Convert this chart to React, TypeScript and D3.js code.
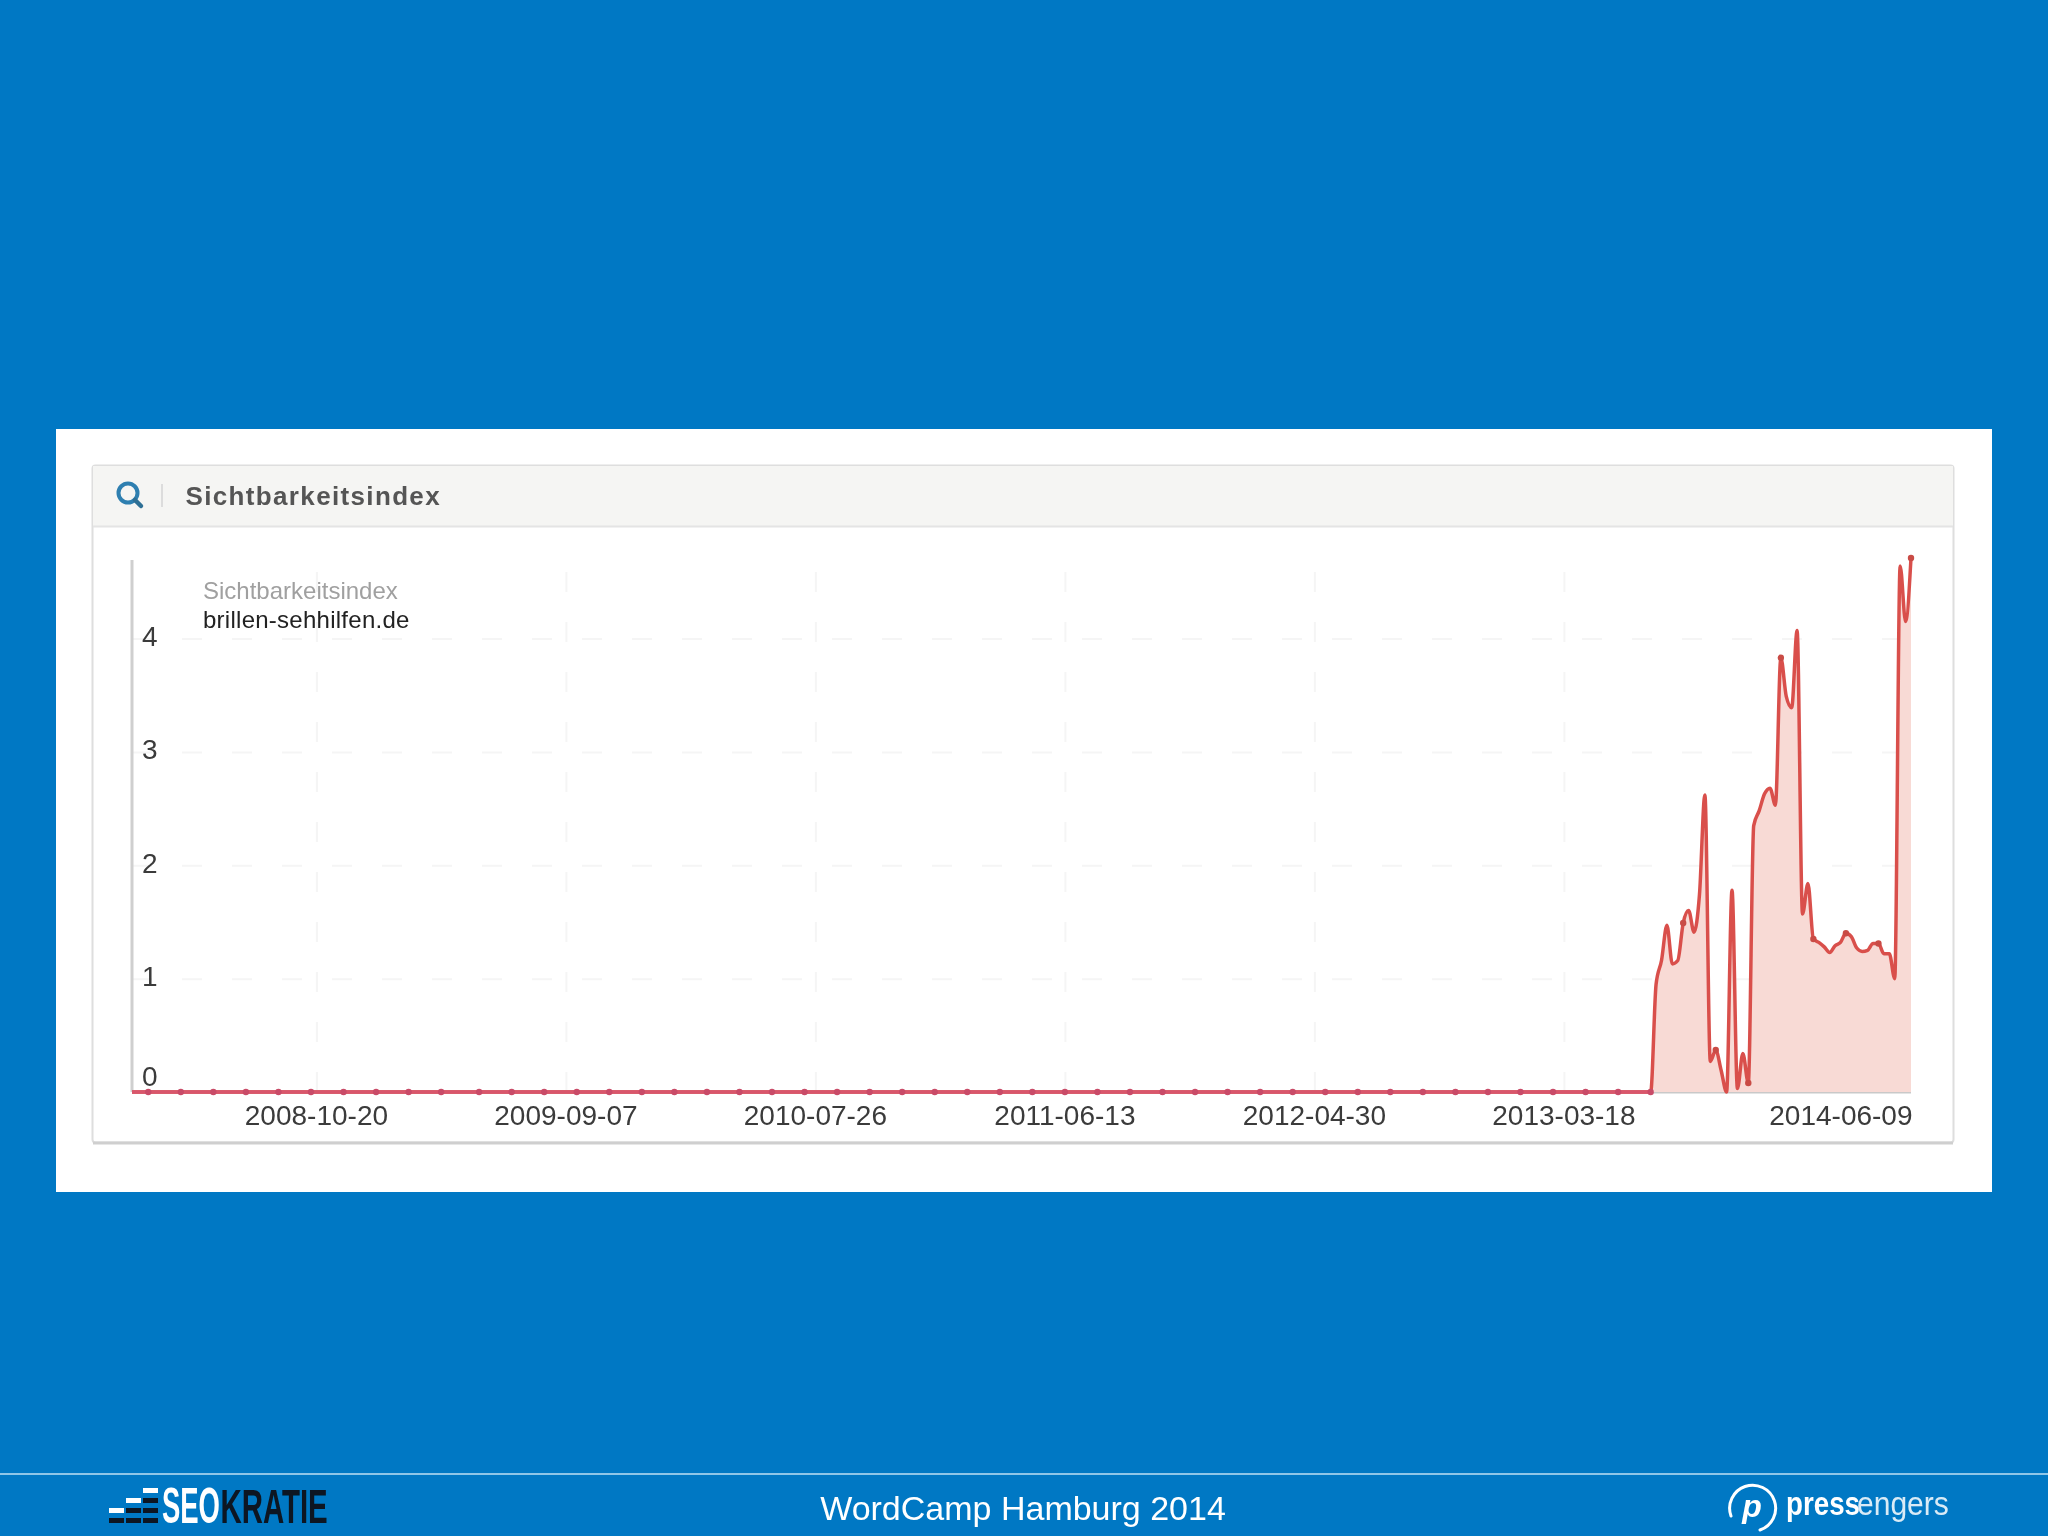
import React, { useEffect, useRef } from 'react';
import * as d3 from 'd3';

// flat stretch, all zero, sampled where the markers sit
const flatDates = [
  '2008-02-25', '2008-03-17', '2008-04-28', '2008-06-09', '2008-07-21', '2008-09-01', '2008-10-13', '2008-11-24',
  '2009-01-05', '2009-02-16', '2009-03-30', '2009-05-18', '2009-06-29', '2009-08-10', '2009-09-21', '2009-11-02',
  '2009-12-14', '2010-01-25', '2010-03-08', '2010-04-19', '2010-05-31', '2010-07-12', '2010-08-23', '2010-10-04',
  '2010-11-15', '2010-12-27', '2011-02-07', '2011-03-21', '2011-05-02', '2011-06-13', '2011-07-25', '2011-09-05',
  '2011-10-17', '2011-11-28', '2012-01-09', '2012-02-20', '2012-04-02', '2012-05-14', '2012-06-25', '2012-08-06',
  '2012-09-17', '2012-10-29', '2012-12-10', '2013-01-21', '2013-03-04', '2013-04-15', '2013-05-27',
];

const activeDates = [
  '2013-07-08', '2013-07-15', '2013-07-22', '2013-07-29', '2013-08-05', '2013-08-12', '2013-08-19', '2013-08-26',
  '2013-09-02', '2013-09-09', '2013-09-16', '2013-09-23', '2013-09-30', '2013-10-07', '2013-10-14', '2013-10-21',
  '2013-10-28', '2013-11-04', '2013-11-11', '2013-11-18', '2013-11-25', '2013-12-02', '2013-12-09', '2013-12-16',
  '2013-12-23', '2013-12-30', '2014-01-06', '2014-01-13', '2014-01-20', '2014-01-27', '2014-02-03', '2014-02-10',
  '2014-02-17', '2014-02-24', '2014-03-03', '2014-03-10', '2014-03-17', '2014-03-24', '2014-03-31', '2014-04-07',
  '2014-04-14', '2014-04-21', '2014-04-28', '2014-05-05', '2014-05-12', '2014-05-19', '2014-05-26', '2014-06-02',
  '2014-06-09',
];

const activeValues = [
  0, 0.95, 1.16, 1.47, 1.13, 1.16, 1.49, 1.6,
  1.41, 1.74, 2.62, 0.27, 0.37, 0.19, 0, 1.78,
  0.03, 0.34, 0.08, 2.35, 2.48, 2.63, 2.68, 2.53,
  3.83, 3.49, 3.39, 4.07, 1.57, 1.84, 1.35, 1.32,
  1.28, 1.23, 1.29, 1.32, 1.4, 1.37, 1.27, 1.24,
  1.25, 1.31, 1.31, 1.22, 1.22, 1.0, 4.64, 4.15,
  4.71,
];

const activeMarkerDates = [
  '2013-07-08', '2013-08-19', '2013-09-30', '2013-11-11', '2013-12-23',
  '2014-02-03', '2014-03-17', '2014-04-28', '2014-06-09',
];

const xTicks = ['2008-10-20', '2009-09-07', '2010-07-26', '2011-06-13', '2012-04-30', '2013-03-18', '2014-06-09'];
const yTicks = [0, 1, 2, 3, 4];

const parse = d3.utcParse('%Y-%m-%d');
const FONT = '"Liberation Sans", Arial, sans-serif';

const App: React.FC = () => {
  const chartRef = useRef<SVGGElement | null>(null);

  useEffect(() => {
    if (!chartRef.current) return;
    const g = d3.select(chartRef.current);
    g.selectAll('*').remove();

    const left = 132;
    const right = 1911;
    const bottom = 1092;
    const top = 560;

    const x = d3.scaleUtc()
      .domain([parse('2008-02-25') as Date, parse('2014-06-09') as Date])
      .range([left, right]);
    const y = d3.scaleLinear().domain([0, 4]).range([bottom, 638.5]);

    const flatPoints = flatDates.map(d => ({ date: parse(d) as Date, value: 0 }));
    const activePoints = activeDates.map((d, i) => ({ date: parse(d) as Date, value: activeValues[i] }));
    const points = [...flatPoints, ...activePoints];
    const tickDates = xTicks.map(d => parse(d) as Date);

    // dashed grid, very faint
    const xGrid = g.append('g')
      .attr('transform', `translate(0,${bottom})`)
      .call(d3.axisBottom(x).tickValues(tickDates.slice(0, -1)).tickSize(-(bottom - top)).tickFormat(() => ''));
    xGrid.select('.domain').remove();
    xGrid.selectAll('text').remove();
    xGrid.selectAll('line').attr('stroke', '#f5f5f5').attr('stroke-width', 2).attr('stroke-dasharray', '20 30');

    const yGrid = g.append('g')
      .attr('transform', `translate(${left},0)`)
      .call(d3.axisLeft(y).tickValues(yTicks.slice(1)).tickSize(-(right - left)).tickFormat(() => ''));
    yGrid.select('.domain').remove();
    yGrid.selectAll('text').remove();
    yGrid.selectAll('line').attr('stroke', '#f5f5f5').attr('stroke-width', 2).attr('stroke-dasharray', '20 30');

    // axis lines
    g.append('line').attr('x1', left).attr('x2', left).attr('y1', top).attr('y2', bottom)
      .attr('stroke', '#cfcfcf').attr('stroke-width', 3);
    g.append('line').attr('x1', left).attr('x2', right).attr('y1', bottom).attr('y2', bottom)
      .attr('stroke', '#c9c9c9').attr('stroke-width', 3);

    // area and line
    const area = d3.area<{ date: Date; value: number }>()
      .x(d => x(d.date))
      .y0(bottom)
      .y1(d => y(d.value))
      .curve(d3.curveMonotoneX);
    const line = d3.line<{ date: Date; value: number }>()
      .x(d => x(d.date))
      .y(d => y(d.value))
      .curve(d3.curveMonotoneX);

    g.append('path').datum(points).attr('d', area).attr('fill', '#f8dad5');
    g.append('path').datum(points).attr('d', line)
      .attr('fill', 'none').attr('stroke', '#d9504c').attr('stroke-width', 3.5).attr('stroke-linejoin', 'round');
    // the flat stretch reads pinker where it sits on the grey axis
    g.append('path').datum([...flatPoints, activePoints[0]]).attr('d', line)
      .attr('fill', 'none').attr('stroke', '#d9566c').attr('stroke-width', 3.5);

    // markers
    const markerDates = [...flatDates.slice(1), ...activeMarkerDates];
    g.selectAll('.marker')
      .data(markerDates.map(d => points.find(p => +p.date === +(parse(d) as Date))!))
      .enter()
      .append('circle')
      .attr('class', 'marker')
      .attr('cx', d => x(d.date))
      .attr('cy', d => y(d.value))
      .attr('r', 3.2)
      .attr('fill', d => (d.value === 0 ? '#c94c68' : '#c94b45'));

    // tick labels
    const xAxis = g.append('g')
      .attr('transform', `translate(0,${bottom})`)
      .call(d3.axisBottom(x).tickValues(tickDates).tickSize(0).tickFormat(d => d3.utcFormat('%Y-%m-%d')(d as Date)));
    xAxis.select('.domain').remove();
    xAxis.selectAll('text')
      .attr('x', -0.5)
      .attr('y', 33)
      .attr('dy', 0)
      .attr('fill', '#3a3a3a')
      .style('font-family', FONT)
      .style('font-size', '28px');
    xAxis.selectAll<SVGTextElement, Date>('text')
      .filter((_, i) => i === xTicks.length - 1)
      .attr('x', 1)
      .attr('text-anchor', 'end');

    const yAxis = g.append('g')
      .attr('transform', `translate(${left},0)`)
      .call(d3.axisLeft(y).tickValues(yTicks).tickSize(0).tickFormat(d3.format('d')));
    yAxis.select('.domain').remove();
    yAxis.selectAll<SVGTextElement, number>('text')
      .attr('x', 10)
      .attr('text-anchor', 'start')
      .attr('dy', d => (d === 0 ? '-0.24em' : '0.25em'))
      .attr('fill', '#3a3a3a')
      .style('font-family', FONT)
      .style('font-size', '28px');
  }, []);

  return (
    <svg width={2048} height={1536} style={{ position: 'absolute', left: 0, top: 0 }} fontFamily={FONT}>
      <defs>
        <filter id="soft" x="0" y="0" width="100%" height="100%">
          <feGaussianBlur stdDeviation={0.6} />
        </filter>
      </defs>
      <g filter="url(#soft)">
        <rect width={2048} height={1536} fill="#0078c4" />
        <rect x={56} y={429} width={1936} height={763} fill="#fff" />

        {/* card */}
        <rect x={92.5} y={465.5} width={1861} height={677} rx={3} fill="#fff" stroke="#dedede" strokeWidth={2} />
        <line x1={93} x2={1953} y1={1143} y2={1143} stroke="#cfcfcf" strokeWidth={3} />
        <rect x={93} y={466} width={1860} height={60} fill="#f5f5f3" />
        <line x1={93} x2={1953} y1={526.5} y2={526.5} stroke="#e4e4e4" strokeWidth={2} />

        {/* search icon */}
        <circle cx={128} cy={493} r={9.5} fill="none" stroke="#2f7fb0" strokeWidth={4} />
        <line x1={135} x2={141} y1={500} y2={506} stroke="#2f6f95" strokeWidth={4.5} strokeLinecap="round" />
        <line x1={162} x2={162} y1={484} y2={507} stroke="#dcdcdc" strokeWidth={2} />
        <text x={185.5} y={505} fontSize={26} fontWeight="bold" fill="#555" letterSpacing={1.35}>Sichtbarkeitsindex</text>

        <g ref={chartRef} />

        {/* legend */}
        <text x={203} y={599} fontSize={24} fill="#a0a0a0">Sichtbarkeitsindex</text>
        <text x={203} y={628} fontSize={24} fill="#222" letterSpacing={0.26}>brillen-sehhilfen.de</text>

        {/* footer */}
        <line x1={0} x2={2048} y1={1474} y2={1474} stroke="#bfe0f4" strokeWidth={1.5} />
        <text x={1023} y={1520} fontSize={34} fill="#fff" textAnchor="middle">WordCamp Hamburg 2014</text>

        {/* SEOKRATIE logo */}
        <g>
          <rect x={143} y={1488} width={15} height={5} fill="#fff" />
          <rect x={126} y={1498} width={15} height={5} fill="#fff" />
          <rect x={143} y={1498} width={15} height={5} fill="#0a1420" />
          <rect x={109} y={1508} width={15} height={5} fill="#fff" />
          <rect x={126} y={1508} width={15} height={5} fill="#0a1420" />
          <rect x={143} y={1508} width={15} height={5} fill="#0a1420" />
          <rect x={109} y={1518} width={15} height={5} fill="#0a1420" />
          <rect x={126} y={1518} width={15} height={5} fill="#0a1420" />
          <rect x={143} y={1518} width={15} height={5} fill="#0a1420" />
          <text transform="translate(162,1523) scale(0.56,1)" fontSize={49} fontWeight="bold" fill="#fff">SEO</text>
          <text transform="translate(220.5,1523) scale(0.6,1)" fontSize={49} fontWeight="bold" fill="#0a1420">KRATIE</text>
        </g>

        {/* pressengers logo */}
        <g>
          <path d="M 1731 1516 A 23 23 0 1 1 1760 1530" fill="none" stroke="#fff" strokeWidth={3} strokeLinecap="round" />
          <text x={1752} y={1517} fontSize={32} fontWeight="bold" fontStyle="italic" fill="#fff" textAnchor="middle">p</text>
          <text transform="translate(1786,1515) scale(0.84,1)" fontSize={33} fontWeight="bold" fill="#fff">press</text>
          <text transform="translate(1857,1515) scale(0.91,1)" fontSize={33} fill="#fff" fillOpacity={0.85}>engers</text>
        </g>
      </g>
    </svg>
  );
};

export default App;
